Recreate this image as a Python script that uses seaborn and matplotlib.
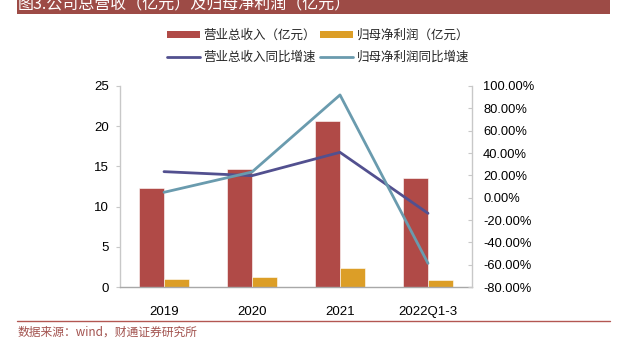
import numpy as np
import pandas as pd
import matplotlib
matplotlib.use("Agg")
import matplotlib.pyplot as plt
import seaborn as sns
from matplotlib.patches import Patch, Rectangle
from matplotlib.lines import Line2D
from matplotlib.ticker import FuncFormatter, MultipleLocator

# ---- data ----
periods = ["2019", "2020", "2021", "2022Q1-3"]
revenue = [12.3, 14.7, 20.6, 13.6]          # 营业总收入（亿元）
net_profit = [1.0, 1.2, 2.4, 0.9]           # 归母净利润（亿元）
revenue_yoy = [23.3, 19.7, 40.6, -14.0]     # 营业总收入同比增速 (%)
profit_yoy = [4.8, 23.0, 92.0, -58.8]       # 归母净利润同比增速 (%)

rev_label = "营业总收入（亿元）"
prof_label = "归母净利润（亿元）"
rev_yoy_label = "营业总收入同比增速"
prof_yoy_label = "归母净利润同比增速"

c_red = "#B04A47"
c_yellow = "#DC9E27"
c_navy = "#52508F"
c_teal = "#6A9BAE"
c_banner = "#9D4B46"

sns.set_theme(style="white")
plt.rcParams["font.family"] = ["Liberation Sans", "Noto Sans CJK SC", "DejaVu Sans"]
cjk = ["Noto Sans CJK SC", "DejaVu Sans"]

df = pd.DataFrame({
    "period": periods * 2,
    "value": revenue + net_profit,
    "series": [rev_label] * len(periods) + [prof_label] * len(periods),
})

fig = plt.figure(figsize=(6.3, 3.43), dpi=100)
ax = fig.add_axes([120 / 630, 1 - 287 / 343, 352 / 630, 201 / 343])

sns.barplot(data=df, x="period", y="value", hue="series", order=periods,
            hue_order=[rev_label, prof_label], palette=[c_red, c_yellow],
            width=0.57, saturation=1, edgecolor="white", linewidth=0.4,
            legend=False, ax=ax)

ax2 = ax.twinx()
xpos = np.arange(len(periods))
sns.lineplot(x=xpos, y=revenue_yoy, ax=ax2, color=c_navy, linewidth=2.0)
sns.lineplot(x=xpos, y=profit_yoy, ax=ax2, color=c_teal, linewidth=2.0)

ax.set_xlim(-0.5, len(periods) - 0.5)
ax.set_ylim(0, 25)
ax.yaxis.set_major_locator(MultipleLocator(5))
ax2.set_ylim(-80, 100)
ax2.yaxis.set_major_locator(MultipleLocator(20))
ax2.yaxis.set_major_formatter(FuncFormatter(lambda v, p: f"{v:.2f}%"))

ax.set_xlabel("")
ax.set_ylabel("")
ax2.set_ylabel("")

for a in (ax, ax2):
    for s in a.spines.values():
        s.set_visible(False)
ax.spines["left"].set_visible(True)
ax.spines["left"].set_color("#C8C8C8")
ax.spines["bottom"].set_visible(True)
ax.spines["bottom"].set_color("#A8A8A8")
ax2.spines["right"].set_visible(True)
ax2.spines["right"].set_color("#C8C8C8")
for sp in (ax.spines["left"], ax.spines["bottom"], ax2.spines["right"]):
    sp.set_linewidth(1.0)

ax.tick_params(axis="y", left=True, length=3, width=0.8, color="#C8C8C8",
               direction="out", pad=5, labelsize=9.5, labelcolor="black")
ax.tick_params(axis="x", bottom=False, pad=8, labelsize=9.5, labelcolor="black")
ax2.tick_params(axis="y", right=True, length=3, width=0.8, color="#C8C8C8",
                direction="in", pad=8, labelsize=9.3, labelcolor="black")
ax.grid(False)
ax2.grid(False)

# legend above the plot
handles = [
    Patch(facecolor=c_red, edgecolor="none"),
    Line2D([0], [0], color=c_navy, linewidth=2.0),
    Patch(facecolor=c_yellow, edgecolor="none"),
    Line2D([0], [0], color=c_teal, linewidth=2.0),
]
labels = [rev_label, rev_yoy_label, prof_label, prof_yoy_label]
fig.legend(handles, labels, ncol=2, loc="center",
           bbox_to_anchor=(318 / 630, 1 - 46.5 / 343), frameon=False,
           prop={"family": cjk, "size": 9}, handlelength=2.6,
           handleheight=0.4, handletextpad=0.3, columnspacing=0.35,
           labelspacing=0.75, borderpad=0)

# header banner
fig.patches.append(Rectangle((17 / 630, 1 - 13.5 / 343), 593 / 630, 13.5 / 343,
                             transform=fig.transFigure, facecolor=c_banner,
                             edgecolor="none", zorder=0))
fig.text(18 / 630, 1 - 9.5 / 343, "图3.公司总营收（亿元）及归母净利润（亿元）",
         family=cjk, fontsize=11.5, color="white", va="baseline", ha="left")

# footer rule and source
fig.add_artist(Line2D([17 / 630, 610 / 630], [1 - 320.5 / 343, 1 - 320.5 / 343],
                      transform=fig.transFigure, color="#B35752", linewidth=1.0))
fig.text(18 / 630, 1 - 332.5 / 343, "数据来源：wind，财通证券研究所",
         family=cjk, fontsize=8.5, color="#A2524E", va="center", ha="left")

fig.savefig("out.png", dpi=100)
